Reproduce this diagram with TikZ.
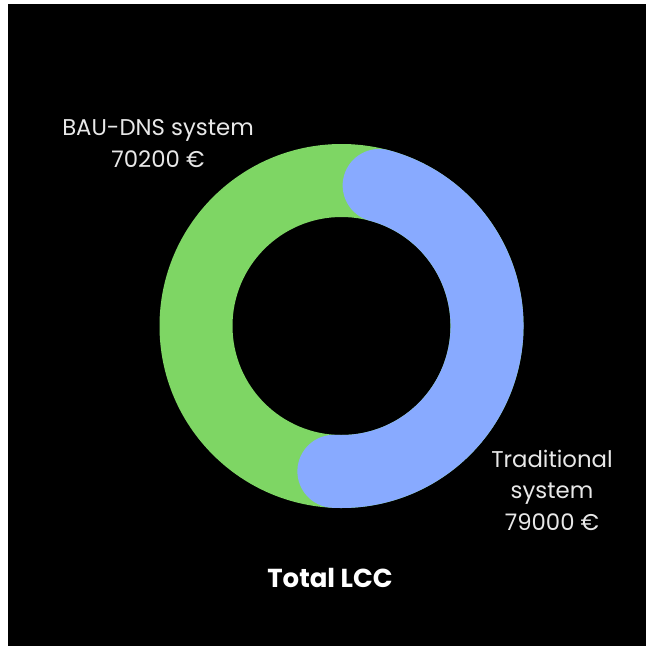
\documentclass[tikz,border=0pt]{standalone}
\usepackage{fontspec}
\setmainfont{Poppins}
\usetikzlibrary{calc}
\definecolor{ringgreen}{RGB}{126,214,100}
\definecolor{ringblue}{RGB}{136,170,255}
\definecolor{labelgray}{RGB}{232,232,232}
\begin{document}
\begin{tikzpicture}[x=1pt,y=-1pt,
  lbl/.style={text=labelgray,font=\fontsize{22.8}{31.5}\selectfont,align=center,inner sep=0pt,anchor=base},
  ttl/.style={text=white,font=\fontsize{26}{30}\selectfont\bfseries,inner sep=0pt,anchor=base}]
\useasboundingbox (0,0) rectangle (646,646);
\fill[white] (0,0) rectangle (646,646);
\fill[black] (8,4) rectangle (646,646);
\coordinate (c) at (341.5,326);
\fill[ringgreen,even odd rule] (c) circle[radius=182] (c) circle[radius=109];
\draw[ringblue,line width=73pt,line cap=round] ($(c)+(-75:145.5)$) arc[start angle=-75,end angle=93,radius=145.5];
\node[lbl] (bau) at (158,167) {BAU-DNS system\\70200 €};
\node[lbl] (trad) at (552,530) {Traditional\\system\\79000 €};
\node[ttl] (total) at (330,587) {Total LCC};
\end{tikzpicture}
\end{document}
